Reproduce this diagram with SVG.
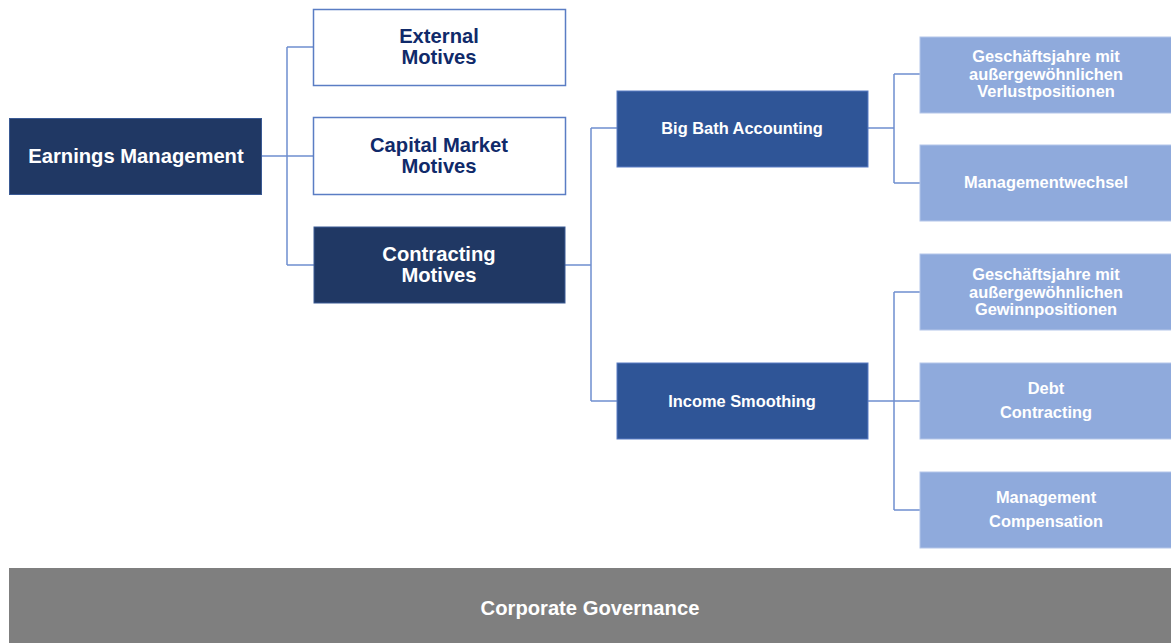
<svg xmlns="http://www.w3.org/2000/svg" width="1171" height="643" viewBox="0 0 1171 643">
  <style>
    text { font-family: "Liberation Sans", Arial, sans-serif; font-weight: bold; text-anchor: middle; }
    .navy { fill: #203864; stroke: #3a5a94; stroke-width: 1; }
    .outline { fill: #ffffff; stroke: #5a7dc4; stroke-width: 1.5; }
    .mid { fill: #2f5597; stroke: #5a7dc4; stroke-width: 1; }
    .light { fill: #8faadc; stroke: #b4c6e9; stroke-width: 1; }
    .band { fill: #7f7f7f; }
    .t20w { font-size: 20.2px; fill: #ffffff; }
    .t20n { font-size: 20.2px; fill: #102a6a; }
    .t16w { font-size: 16.4px; fill: #ffffff; }
    .conn { fill: none; stroke: #6f8fd0; stroke-width: 1.5; }
  </style>

  <!-- connectors -->
  <g id="connectors" class="conn">
    <path d="M261,156 H313 M287,47 V265 M287,47 H313 M287,265 H314"/>
    <path d="M565,265 H591 M591,128 V401 M591,128 H617 M591,401 H617"/>
    <path d="M868,128 H894 M894,74 V183 M894,74 H920 M894,183 H920"/>
    <path d="M868,401 H920 M894,292 V510 M894,292 H920 M894,510 H920"/>
  </g>

  <g id="earnings-management">
    <rect class="navy" x="9.5" y="118.5" width="252" height="76"/>
    <text class="t20w" x="136" y="163">Earnings Management</text>
  </g>

  <g id="external-motives">
    <rect class="outline" x="313.5" y="9.5" width="252" height="76"/>
    <text class="t20n" x="439" y="43">External</text>
    <text class="t20n" x="439" y="64">Motives</text>
  </g>

  <g id="capital-market-motives">
    <rect class="outline" x="313.5" y="117.5" width="252" height="77"/>
    <text class="t20n" x="439" y="152">Capital Market</text>
    <text class="t20n" x="439" y="173">Motives</text>
  </g>

  <g id="contracting-motives">
    <rect class="navy" x="314" y="227" width="251" height="76"/>
    <text class="t20w" x="439" y="261">Contracting</text>
    <text class="t20w" x="439" y="282">Motives</text>
  </g>

  <g id="big-bath-accounting">
    <rect class="mid" x="617" y="91" width="251" height="76"/>
    <text class="t16w" x="742" y="134">Big Bath Accounting</text>
  </g>

  <g id="income-smoothing">
    <rect class="mid" x="617" y="363" width="251" height="76"/>
    <text class="t16w" x="742" y="407">Income Smoothing</text>
  </g>

  <g id="verlustpositionen">
    <rect class="light" x="920" y="37" width="252" height="76"/>
    <text class="t16w" x="1046" y="62">Geschäftsjahre mit</text>
    <text class="t16w" x="1046" y="80">außergewöhnlichen</text>
    <text class="t16w" x="1046" y="97">Verlustpositionen</text>
  </g>

  <g id="managementwechsel">
    <rect class="light" x="920" y="145" width="252" height="76"/>
    <text class="t16w" x="1046" y="188">Managementwechsel</text>
  </g>

  <g id="gewinnpositionen">
    <rect class="light" x="920" y="254" width="252" height="76"/>
    <text class="t16w" x="1046" y="280">Geschäftsjahre mit</text>
    <text class="t16w" x="1046" y="298">außergewöhnlichen</text>
    <text class="t16w" x="1046" y="315">Gewinnpositionen</text>
  </g>

  <g id="debt-contracting">
    <rect class="light" x="920" y="363" width="252" height="76"/>
    <text class="t16w" x="1046" y="394">Debt</text>
    <text class="t16w" x="1046" y="418">Contracting</text>
  </g>

  <g id="management-compensation">
    <rect class="light" x="920" y="472" width="252" height="76"/>
    <text class="t16w" x="1046" y="503">Management</text>
    <text class="t16w" x="1046" y="527">Compensation</text>
  </g>

  <g id="corporate-governance">
    <rect class="band" x="9" y="568" width="1163" height="76"/>
    <text class="t20w" x="590" y="615">Corporate Governance</text>
  </g>
</svg>
